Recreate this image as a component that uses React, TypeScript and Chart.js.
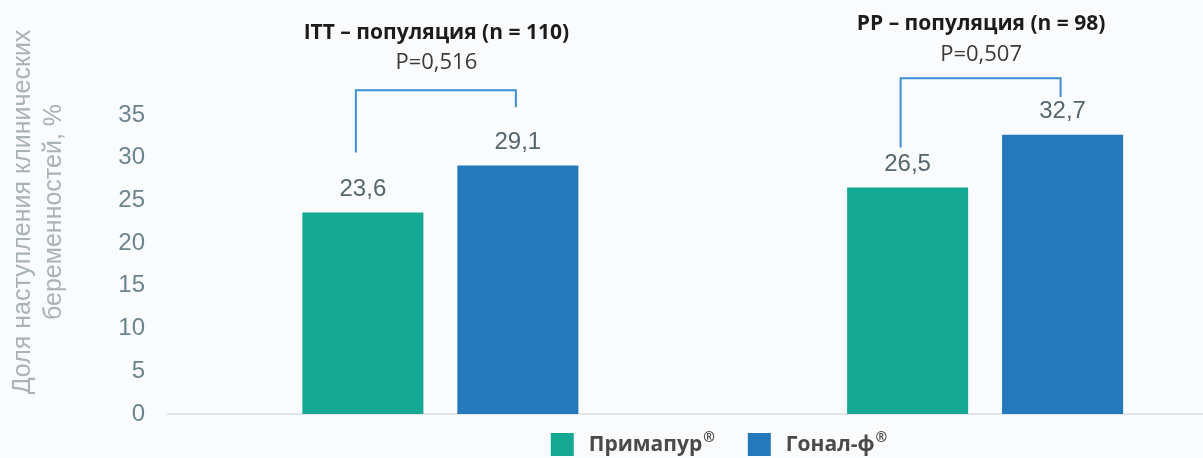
import React, { useEffect, useRef } from "react";
import { Chart, registerables } from "chart.js";

Chart.register(...registerables);

// ---- data ----
const groupTitles = ["ITT – популяция (n = 110)", "PP – популяция (n = 98)"];
const pValues = ["P=0,516", "P=0,507"];
const seriesNames = ["Примапур®", "Гонал-ф®"];
const primapur = [23.6, 26.5];
const gonal = [29.1, 32.7];
const yTicks = [0, 5, 10, 15, 20, 25, 30, 35];
const yTitleLines = ["Доля наступления клинических", "беременностей, %"];

// ---- styles ----
const COLORS = ["#15a994", "#2479bb"];
const BRACKET_COLOR = "#3d8fd8";
// bracket levels in axis units (top bar, left leg end, right leg end)
const BRACKETS = [
  { top: 37.9, left: 30.6, right: 35.9 },
  { top: 39.3, left: 31.2, right: 37.1 },
];
const TEXT_OFFSETS = [
  { p: 27, title: 57 },
  { p: 24, title: 54 },
];

const fmt = (v: number) => String(v).replace(".", ",");

const annotate = {
  id: "annotate",
  afterDatasetsDraw(chart: any) {
    const ctx = chart.ctx as CanvasRenderingContext2D;
    const xs = chart.scales.x;
    const ys = chart.scales.y;
    ctx.save();
    // value labels
    ctx.font = "24px 'Liberation Sans', Arial, sans-serif";
    ctx.fillStyle = "#55666d";
    ctx.textAlign = "center";
    ctx.textBaseline = "middle";
    chart.data.datasets.forEach((ds: any, di: number) => {
      const meta = chart.getDatasetMeta(di);
      meta.data.forEach((bar: any, i: number) => {
        ctx.fillText(fmt(ds.data[i].y), bar.x, bar.y - 23);
      });
    });
    // brackets, p-values, group titles
    const m0 = chart.getDatasetMeta(0);
    const m1 = chart.getDatasetMeta(1);
    groupTitles.forEach((title, i) => {
      const b = BRACKETS[i];
      const xl = m0.data[i].x - 7;
      const xr = m1.data[i].x - 2;
      const yt = ys.getPixelForValue(b.top);
      ctx.strokeStyle = BRACKET_COLOR;
      ctx.lineWidth = 2;
      ctx.beginPath();
      ctx.moveTo(xl, ys.getPixelForValue(b.left));
      ctx.lineTo(xl, yt);
      ctx.lineTo(xr, yt);
      ctx.lineTo(xr, ys.getPixelForValue(b.right));
      ctx.stroke();
      const cx = xs.getPixelForValue(i + 1);
      ctx.fillStyle = "#3a3a3a";
      ctx.font = "22px 'Open Sans', sans-serif";
      ctx.fillText(pValues[i], cx - 4, yt - TEXT_OFFSETS[i].p);
      ctx.fillStyle = "#1c1c1c";
      ctx.font = "bold 21px 'Open Sans', sans-serif";
      ctx.fillText(title, cx - 4, yt - TEXT_OFFSETS[i].title);
    });
    // y title
    ctx.fillStyle = "#a9b2b6";
    ctx.font = "25px 'Liberation Sans', Arial, sans-serif";
    ctx.save();
    ctx.translate(0, 212);
    ctx.rotate(-Math.PI / 2);
    ctx.fillText(yTitleLines[0], 0, 23);
    ctx.fillText(yTitleLines[1], 0, 54);
    ctx.restore();
    // legend (registered mark drawn as superscript)
    const mainFont = "bold 21px 'Open Sans', sans-serif";
    const supFont = "bold 14px 'Open Sans', sans-serif";
    const box = 23;
    const gapText = 15;
    const gapItem = 33;
    const parts = chart.data.datasets.map((ds: any) => {
      const label: string = ds.label;
      const sup = label.endsWith("®");
      const base = sup ? label.slice(0, -1) : label;
      ctx.font = mainFont;
      const wb = ctx.measureText(base).width;
      ctx.font = supFont;
      const ws = sup ? ctx.measureText("®").width + 1 : 0;
      return { base, sup, wb, ws, w: box + gapText + wb + ws };
    });
    const total =
      parts.reduce((a: number, p: any) => a + p.w, 0) + gapItem * (parts.length - 1);
    let lx = 719 - total / 2;
    const ly = 433;
    ctx.textAlign = "left";
    chart.data.datasets.forEach((ds: any, di: number) => {
      const p = parts[di];
      ctx.fillStyle = ds.backgroundColor;
      ctx.fillRect(lx, ly, box, box);
      ctx.fillStyle = "#4a4a4a";
      ctx.font = mainFont;
      const tx = lx + box + gapText;
      ctx.fillText(p.base, tx, ly + box / 2 + 1);
      if (p.sup) {
        ctx.font = supFont;
        ctx.fillText("®", tx + p.wb + 1, ly + box / 2 - 6);
      }
      lx += p.w + gapItem;
    });
    ctx.restore();
  },
};

export default function App() {
  const ref = useRef<HTMLCanvasElement>(null);
  useEffect(() => {
    if (!ref.current) return;
    const chart = new Chart(ref.current, {
      type: "bar",
      data: {
        datasets: [primapur, gonal].map((vals, di) => ({
          label: seriesNames[di],
          data: vals.map((v, i) => ({ x: i + 1, y: v })),
          backgroundColor: COLORS[di],
          barPercentage: 0.781,
          categoryPercentage: 0.569,
        })),
      },
      options: {
        animation: false,
        responsive: true,
        maintainAspectRatio: false,
        layout: { padding: { top: 115, bottom: 44, left: 0, right: 0 } },
        plugins: {
          legend: { display: false },
          tooltip: { enabled: false },
        },
        scales: {
          x: {
            type: "linear",
            min: 0.5,
            max: 2.4,
            offset: false,
            ticks: { display: false },
            grid: { display: false, drawTicks: false, offset: false },
            border: { display: true, color: "#dfe5ea", width: 2 },
            afterBuildTicks: (scale: any) => {
              scale.ticks = groupTitles.map((_, i) => ({ value: i + 1 }));
            },
          },
          y: {
            min: 0,
            max: 35,
            afterBuildTicks: (scale: any) => {
              scale.ticks = yTicks.map((v) => ({ value: v }));
            },
            ticks: {
              padding: 23,
              color: "#6b848e",
              font: { family: "'Liberation Sans', Arial, sans-serif", size: 24 },
            },
            grid: { display: false, drawTicks: false },
            border: { display: false },
            afterFit: (scale: any) => {
              scale.width = 168;
            },
          },
        },
      },
      plugins: [annotate],
    });
    return () => chart.destroy();
  }, []);
  return (
    <div
      style={{
        position: "fixed",
        left: 0,
        top: 0,
        width: 1203,
        height: 458,
        background: "#fafbfd",
      }}
    >
      <canvas ref={ref} />
    </div>
  );
}
